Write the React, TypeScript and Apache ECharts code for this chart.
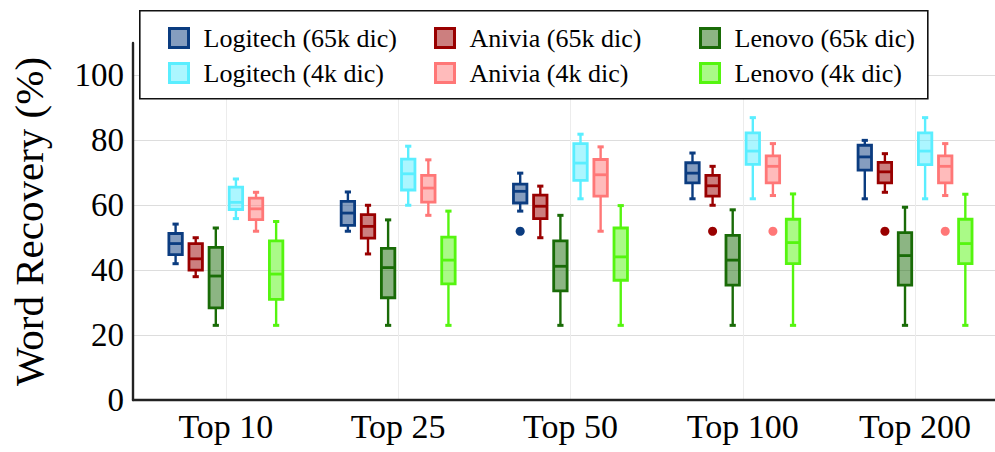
import React, { useEffect, useRef } from "react";
import * as echarts from "echarts";

// Categories on the x axis
const categories = ["Top 10", "Top 25", "Top 50", "Top 100", "Top 200"];
const yTicks = [0, 20, 40, 60, 80, 100];

// Box statistics per category: [min, q1, median, q3, max]
const logitech65k = [
  [42, 44.8, 48.2, 51.3, 54.2],
  [52, 53.8, 57.6, 61.2, 64.1],
  [58.2, 60.7, 64.3, 66.5, 69.9],
  [62, 66.9, 69.9, 73.1, 76.1],
  [62, 70.8, 74.9, 78.5, 80],
];
const anivia65k = [
  [38, 40, 43.5, 48.2, 50],
  [45, 49.9, 53.5, 57.1, 60],
  [50, 55.9, 59.7, 63.1, 65.9],
  [60, 62.8, 66, 69.2, 72],
  [64, 66.9, 70.3, 73.2, 75.9],
];
const lenovo65k = [
  [23, 28.4, 38.2, 47, 53],
  [23, 31.5, 40.8, 46.7, 55.5],
  [23, 33.6, 41.2, 49, 56.9],
  [23, 35.4, 43.1, 50.7, 58.6],
  [23, 35.4, 44.5, 51.6, 59.4],
];
const logitech4k = [
  [55.9, 58.7, 60.9, 65.6, 68.1],
  [60, 64.7, 69.7, 74.2, 78.2],
  [62, 67.7, 73, 79, 81.9],
  [62, 72.6, 76.7, 82.3, 87],
  [62, 72.5, 76.7, 82.3, 87],
];
const anivia4k = [
  [52, 55.6, 58.9, 62.2, 64],
  [56.9, 61, 65.3, 69.2, 74],
  [52, 62.8, 69.4, 74.1, 78],
  [63, 66.9, 72, 75.2, 79],
  [63, 66.9, 72, 75.2, 79],
];
const lenovo4k = [
  [23, 31, 38.8, 49, 55],
  [23, 35.8, 43.1, 50.2, 58.2],
  [23, 36.9, 44.1, 53, 59.9],
  [23, 42, 48.5, 55.7, 63.5],
  [23, 42, 48.2, 55.7, 63.4],
];

// Outliers: [category index, value]
const logitech65kOutliers = [[2, 52]];
const anivia65kOutliers = [[3, 52], [4, 52]];
const lenovo65kOutliers: number[][] = [];
const logitech4kOutliers: number[][] = [];
const anivia4kOutliers = [[3, 52], [4, 52]];
const lenovo4kOutliers: number[][] = [];

const groups = [
  { name: "Logitech (65k dic)", stats: logitech65k, outliers: logitech65kOutliers, edge: "#0b3c80", fill: "rgba(11,60,128,0.5)" },
  { name: "Anivia (65k dic)", stats: anivia65k, outliers: anivia65kOutliers, edge: "#990000", fill: "rgba(153,0,0,0.5)" },
  { name: "Lenovo (65k dic)", stats: lenovo65k, outliers: lenovo65kOutliers, edge: "#196b07", fill: "rgba(25,107,7,0.5)" },
  { name: "Logitech (4k dic)", stats: logitech4k, outliers: logitech4kOutliers, edge: "#5aeeff", fill: "rgba(90,238,255,0.5)" },
  { name: "Anivia (4k dic)", stats: anivia4k, outliers: anivia4kOutliers, edge: "#ff7777", fill: "rgba(255,119,119,0.5)" },
  { name: "Lenovo (4k dic)", stats: lenovo4k, outliers: lenovo4kOutliers, edge: "#55f50f", fill: "rgba(85,245,15,0.5)" },
];

const FONT = "Liberation Serif";
const SLOT = 0.1167; // spacing between boxes within a category, in axis units
const BOX_HALF = 0.039;
const CAP_HALF = 0.018;

const slotX = (cat: number, slot: number) => cat + 1 + (slot - 2.5) * SLOT;

function makeRenderItem(slot: number, edge: string, fill: string) {
  return (_params: any, api: any) => {
    const cat = api.value(0) as number;
    const x = slotX(cat, slot);
    const unit = api.size([1, 0])[0];
    const pMin = api.coord([x, api.value(1)]);
    const pQ1 = api.coord([x, api.value(2)]);
    const pMed = api.coord([x, api.value(3)]);
    const pQ3 = api.coord([x, api.value(4)]);
    const pMax = api.coord([x, api.value(5)]);
    const cx = pMin[0];
    const hw = unit * BOX_HALF;
    const hc = unit * CAP_HALF;
    const lineStyle = { stroke: edge, lineWidth: 2.4 };
    return {
      type: "group",
      children: [
        { type: "line", shape: { x1: cx, y1: pMin[1], x2: cx, y2: pQ1[1] }, style: lineStyle },
        { type: "line", shape: { x1: cx, y1: pQ3[1], x2: cx, y2: pMax[1] }, style: lineStyle },
        { type: "line", shape: { x1: cx - hc, y1: pMin[1], x2: cx + hc, y2: pMin[1] }, style: { stroke: edge, lineWidth: 3 } },
        { type: "line", shape: { x1: cx - hc, y1: pMax[1], x2: cx + hc, y2: pMax[1] }, style: { stroke: edge, lineWidth: 3 } },
        {
          type: "rect",
          shape: { x: cx - hw, y: pQ3[1], width: hw * 2, height: pQ1[1] - pQ3[1] },
          style: { fill, stroke: edge, lineWidth: 2.8 },
        },
        { type: "line", shape: { x1: cx - hw, y1: pMed[1], x2: cx + hw, y2: pMed[1] }, style: { stroke: edge, lineWidth: 2.8 } },
      ],
    };
  };
}

function buildOption() {
  const series: any[] = [];
  groups.forEach((g, slot) => {
    series.push({
      name: g.name,
      type: "custom",
      renderItem: makeRenderItem(slot, g.edge, g.fill),
      itemStyle: { color: g.fill, borderColor: g.edge },
      encode: { x: 0, y: [1, 2, 3, 4, 5] },
      data: g.stats.map((s, i) => [i, ...s]),
      z: 3,
    });
    if (g.outliers.length) {
      series.push({
        type: "scatter",
        symbol: "circle",
        symbolSize: 9,
        itemStyle: { color: g.edge, opacity: 1 },
        data: g.outliers.map(([c, v]) => [slotX(c, slot), v]),
        z: 3,
      });
    }
  });

  const legendCols = [
    { left: 163, items: [groups[0], groups[3]] },
    { left: 429, items: [groups[1], groups[4]] },
    { left: 694, items: [groups[2], groups[5]] },
  ];

  const legendText = { fontFamily: FONT, fontSize: 26, color: "#000", padding: [0, 0, 0, 10] };

  return {
    animation: false,
    backgroundColor: "#ffffff",
    textStyle: { fontFamily: FONT },
    grid: { left: 129, right: 0, top: 43, bottom: 52, containLabel: false },
    xAxis: {
      type: "value",
      min: 0.461,
      max: 5.464,
      axisLine: { show: true, onZero: false, lineStyle: { color: "#222", width: 2.4 } },
      axisTick: { show: false, customValues: [1, 2, 3, 4, 5] },
      axisLabel: {
        customValues: [1, 2, 3, 4, 5],
        formatter: (v: number) => categories[Math.round(v) - 1] ?? "",
        fontFamily: FONT,
        fontSize: 34,
        color: "#000",
        margin: 9,
      },
      splitLine: { show: true, lineStyle: { color: "#ececec", width: 1 } },
    },
    yAxis: {
      type: "value",
      min: 0,
      max: 110,
      interval: 20,
      name: "Word Recovery (%)",
      nameLocation: "middle",
      nameGap: 84,
      nameTextStyle: { fontFamily: FONT, fontSize: 41, color: "#000" },
      axisLine: { show: true, lineStyle: { color: "#222", width: 2.4 } },
      axisTick: { show: false, customValues: yTicks },
      axisLabel: {
        customValues: yTicks,
        fontFamily: FONT,
        fontSize: 33,
        color: "#000",
        margin: 9,
      },
      splitLine: { show: true, lineStyle: { color: "#dddddd", width: 1 } },
    },
    legend: legendCols.map((col) => ({
      orient: "vertical",
      left: col.left,
      top: 20,
      itemWidth: 19,
      itemHeight: 19,
      itemGap: 9,
      z: 20,
      selectedMode: false,
      textStyle: legendText,
      data: col.items.map((g) => ({
        name: g.name,
        icon: "rect",
        textStyle: legendText,
        itemStyle: { color: g.fill, borderColor: g.edge, borderWidth: 3 },
      })),
    })),
    graphic: [
      {
        type: "rect",
        z: 10,
        left: 139,
        top: 10,
        shape: { width: 788, height: 88 },
        style: { fill: "#ffffff", stroke: "#111", lineWidth: 1.6 },
      },
    ],
    series,
  };
}

export default function App() {
  const ref = useRef<HTMLDivElement>(null);
  useEffect(() => {
    document.body.style.margin = "0";
    if (!ref.current) return;
    const chart = echarts.init(ref.current, undefined, { renderer: "svg" });
    chart.setOption(buildOption() as any);
    return () => chart.dispose();
  }, []);
  return <div ref={ref} style={{ width: 995, height: 452 }} />;
}
